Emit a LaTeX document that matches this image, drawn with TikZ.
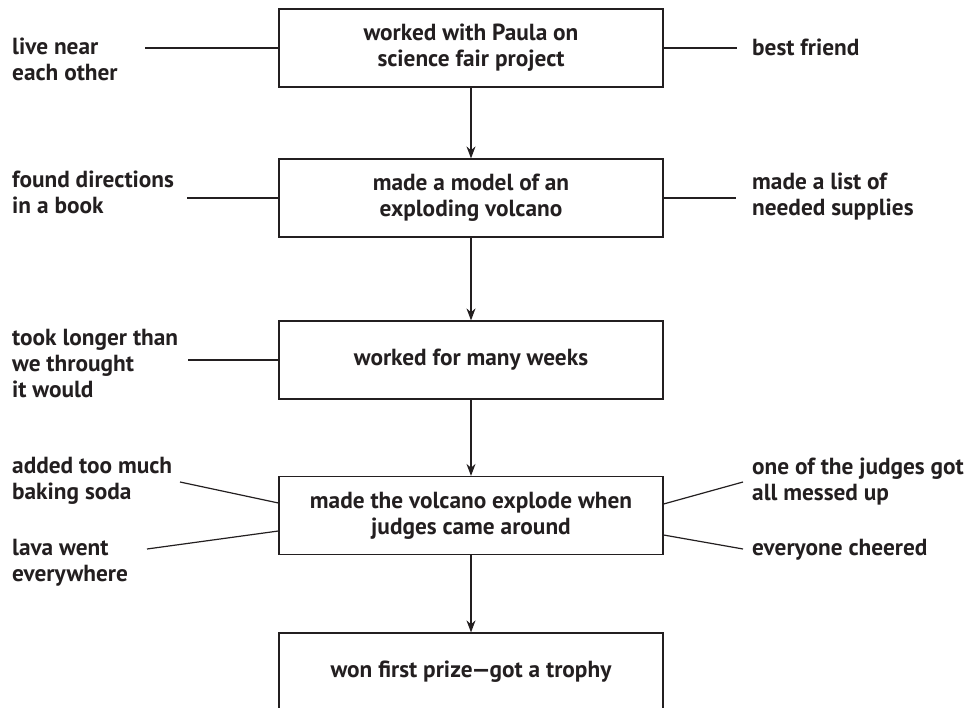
\documentclass[tikz,border=0pt]{standalone}
\usepackage{fontspec}
\setmainfont{PT Sans}
\usetikzlibrary{arrows.meta}
\definecolor{ink}{HTML}{231F20}
\begin{document}
\begin{tikzpicture}[x=1pt,y=-1pt,
  every node/.style={text=ink,font=\fontsize{23.3}{26}\selectfont\bfseries},
  stepbox/.style={draw=ink,line width=1.2pt,minimum width=384pt,minimum height=78pt,inner sep=0pt,align=center},
  lbl/.style={anchor=north west,align=left,inner sep=0pt},
  link/.style={draw=ink,line width=1.2pt},
  flow/.style={link,-{Stealth[length=12pt,width=9pt]}}]
\clip (0,0) rectangle (971,708);
\fill[white] (0,0) rectangle (971,708);
% boxes
\node[stepbox] (b1) at (471,48) {worked with Paula on\\science fair project};
\node[stepbox] (b2) at (471,198) {made a model of an\\exploding volcano};
\node[stepbox] (b3) at (471,360) {worked for many weeks};
\node[stepbox] (b4) at (471,515.5) {made the volcano explode when\\judges came around};
\node[stepbox] (b5) at (471,672) {won first prize\kern-1pt---\kern-1pt got a trophy};
% flow arrows
\draw[flow] (b1) -- (b2);
\draw[flow] (b2) -- (b3);
\draw[flow] (b3) -- (b4);
\draw[flow] (b4) -- (b5);
% labels
\node[lbl] (t1) at (12,38) {live near\\each other};
\node[lbl] (t2) at (752,39) {best friend};
\node[lbl] (t3) at (12,171) {found directions\\in a book};
\node[lbl] (t4) at (752,173) {made a list of\\needed supplies};
\node[lbl] (t5) at (12,329) {took longer than\\we throught\\it would};
\node[lbl] (t6) at (12,457) {added too much\\baking soda};
\node[lbl] (t7) at (12,539) {lava went\\everywhere};
\node[lbl] (t8) at (752,458) {one of the judges got\\all messed up};
\node[lbl] (t9) at (752,539) {everyone cheered};
% free ends of connectors
\coordinate (e1) at (145,48);
\coordinate (e2) at (737,48);
\coordinate (e3) at (187,198);
\coordinate (e4) at (736,198);
\coordinate (e5) at (188,360);
\coordinate (e6) at (180,482);
\coordinate (e7) at (147,549);
\coordinate (e8) at (743,482);
\coordinate (e9) at (743,549);
\draw[link] (e1) -- (b1.west);
\draw[link] (b1.east) -- (e2);
\draw[link] (e3) -- (b2.west);
\draw[link] (b2.east) -- (e4);
\draw[link] (e5) -- (b3.west);
\draw[link] (e6) -- ([yshift=12.5pt]b4.west);
\draw[link] (e7) -- ([yshift=-15.5pt]b4.west);
\draw[link] ([yshift=11.5pt]b4.east) -- (e8);
\draw[link] ([yshift=-19.5pt]b4.east) -- (e9);
\end{tikzpicture}
\end{document}
